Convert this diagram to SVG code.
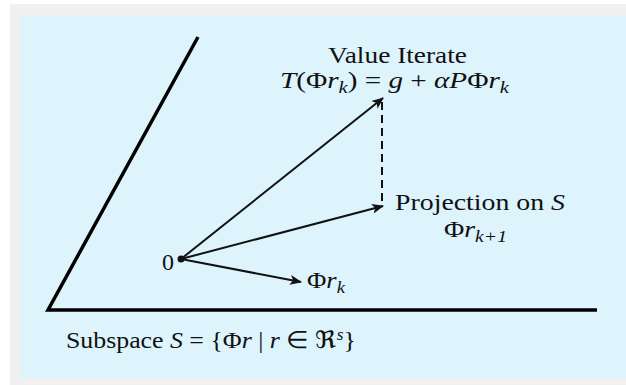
<svg xmlns="http://www.w3.org/2000/svg" width="626" height="385" viewBox="0 0 626 385">
  <defs>
    <marker id="ah" viewBox="0 0 12 10" refX="11" refY="5" markerWidth="12" markerHeight="10" markerUnits="userSpaceOnUse" orient="auto">
      <path d="M0,0 L12,5 L0,10 L3,5 Z" fill="#111"/>
    </marker>
    <style>
      .t { font-family: "Liberation Serif", "Times New Roman", serif; font-size: 24px; fill: #111; }
      .i { font-style: italic; }
      .sub { font-size: 17px; font-style: italic; }
      .axis { stroke: #000; stroke-width: 3.5; fill: none; stroke-linecap: butt; }
      .vec { stroke: #111; stroke-width: 2; fill: none; marker-end: url(#ah); }
      .dash { stroke: #111; stroke-width: 2; fill: none; stroke-dasharray: 8 5; }
    </style>
  </defs>
  <rect x="0" y="0" width="626" height="385" fill="#ffffff"/>
  <rect x="10" y="4" width="616" height="381" fill="#f0f0f0"/>
  <rect x="20" y="16" width="606" height="362" fill="#ddf4fd"/>

  <g id="subspace">
    <path class="axis" d="M198,37 L48,310 L597,310"/>
    <text class="t" x="66" y="348" textLength="290" lengthAdjust="spacingAndGlyphs">Subspace <tspan class="i">S</tspan> = {Φ<tspan class="i">r</tspan> | <tspan class="i">r</tspan> ∈ ℜ<tspan class="i" font-size="16" dy="-8">s</tspan><tspan dy="8">}</tspan></text>
  </g>

  <g id="connectors">
    <line class="vec" x1="181" y1="259" x2="383" y2="98"/>
    <line class="vec" x1="181" y1="259" x2="383" y2="206"/>
    <line class="vec" x1="181" y1="259" x2="301" y2="282"/>
    <line class="dash" x1="382" y1="102" x2="382" y2="205"/>
  </g>

  <g id="origin">
    <circle cx="181" cy="259" r="3.5" fill="#111"/>
    <text class="t" x="162" y="270">0</text>
  </g>

  <g id="value-iterate">
    <text class="t" x="328" y="63" textLength="139" lengthAdjust="spacingAndGlyphs">Value Iterate</text>
    <text class="t" x="280" y="88" textLength="229" lengthAdjust="spacingAndGlyphs"><tspan class="i">T</tspan>(Φ<tspan class="i">r</tspan><tspan class="sub" dy="5">k</tspan><tspan dy="-5">) = </tspan><tspan class="i">g</tspan> + <tspan class="i">αP</tspan>Φ<tspan class="i">r</tspan><tspan class="sub" dy="5">k</tspan></text>
  </g>

  <g id="projection">
    <text class="t" x="395" y="210" textLength="170" lengthAdjust="spacingAndGlyphs">Projection on <tspan class="i">S</tspan></text>
    <text class="t" x="444" y="237" textLength="63" lengthAdjust="spacingAndGlyphs">Φ<tspan class="i">r</tspan><tspan class="sub" dy="5">k+1</tspan></text>
  </g>

  <g id="phi-rk">
    <text class="t" x="307" y="288" textLength="38" lengthAdjust="spacingAndGlyphs">Φ<tspan class="i">r</tspan><tspan class="sub" dy="5">k</tspan></text>
  </g>
</svg>
